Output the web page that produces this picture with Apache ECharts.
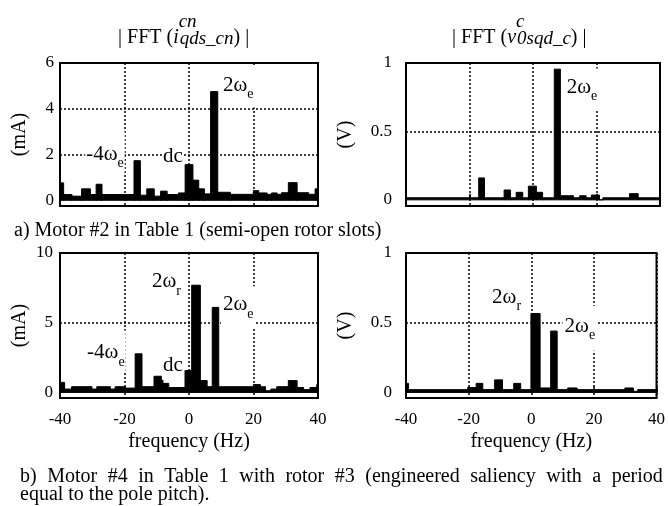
<!DOCTYPE html>
<html><head><meta charset="utf-8">
<script src="https://cdn.jsdelivr.net/npm/echarts@6.0.0/dist/echarts.min.js"></script>
<style>html,body{margin:0;padding:0;background:#fff}#c{width:668px;height:506px}</style>
</head><body><div id="c"></div>
<script>
// ---- data: piecewise-constant FFT spectra (bin edges in Hz, amplitude of each bin) ----
const xTickLabels = [-40, -20, 0, 20, 40];

// a) current |FFT(i_qds_cn)| in mA
const tlEdges = [-40, -39, -36.4, -33.3, -30.7, -28.8, -27.1, -17.05, -15.2, -13.1, -10.9, -8.8, -6.9, -3.3, -1.2, 1.1, 2.9, 4.65, 6.7, 8.8, 12.7, 19.95, 21.5, 24.1, 25.6, 27.2, 28.7, 30.8, 33.4, 37, 39.1, 40];
const tlAmp   = [0.76, 0.25, 0.18, 0.5, 0.25, 0.7, 0.25, 1.73, 0.22, 0.5, 0.18, 0.4, 0.25, 0.32, 1.56, 0.88, 0.5, 0.28, 4.75, 0.35, 0.26, 0.42, 0.32, 0.26, 0.32, 0.26, 0.33, 0.77, 0.33, 0.26, 0.5];
// a) voltage |FFT(v_0sqd_c)| in V
const trEdges = [-40, -17.1, -15.4, -9.1, -7.2, -5.3, -3.35, -1.46, 0.94, 2.9, 6.7, 8.5, 12.6, 14.7, 16.6, 18.4, 20.8, 22, 30.4, 33, 40];
const trAmp   = [0.015, 0.16, 0.015, 0.072, 0.015, 0.055, 0.015, 0.1, 0.055, 0.015, 0.955, 0.03, 0.015, 0.03, 0.015, 0.035, 0.0, 0.015, 0.045, 0.015];
// b) current in mA
const blEdges = [-40, -38.7, -36.4, -30.2, -28.6, -24.5, -22.9, -19.8, -16.7, -14.7, -10.85, -8.2, -6.4, -1.24, 0.83, 3.4, 5.5, 7.2, 9.1, 19.95, 22, 23.6, 25.4, 27.2, 30.8, 33.4, 35.4, 37.5, 39.6, 40];
const blAmp   = [0.72, 0.24, 0.41, 0.24, 0.41, 0.24, 0.41, 0.31, 2.77, 0.41, 1.16, 0.65, 0.35, 1.57, 7.69, 0.85, 0.41, 6.1, 0.41, 0.56, 0.41, 0.12, 0.24, 0.41, 0.85, 0.35, 0.2, 0.35, 0.56];
// b) voltage in V
const brEdges = [-40, -39.3, -20.3, -17.6, -15.6, -11.7, -9.3, -5.6, -3.5, -0.1, 2.7, 6.2, 8.15, 11.6, 14.5, 29.9, 32.5, 34, 40];
const brAmp   = [0.065, 0.02, 0.035, 0.065, 0.02, 0.09, 0.02, 0.065, 0.02, 0.566, 0.032, 0.44, 0.02, 0.032, 0.02, 0.032, 0.008, 0.02];

const tlLabels = [0, 2, 4, 6], tlGrid = [2, 4];
const trLabels = [0, 0.5, 1], trGrid = [0.5];
const blLabels = [0, 5, 10], blGrid = [5];
const brLabels = [0, 0.5, 1], brGrid = [0.5];

// ---- styling ----
const F = 'Liberation Serif';
const chart = echarts.init(document.getElementById('c'), null, {renderer: 'canvas'});

const labelRich = {
  m: {fontFamily: F, fontSize: 21, color: '#000', verticalAlign: 'top'},
  s: {fontFamily: F, fontSize: 14, color: '#000', verticalAlign: 'bottom', padding: [13, 0, 0, 0]}
};
function ann(coord, text, pad) {
  return {
    value: coord,
    itemStyle: {opacity: 1},
    label: {show: true, position: 'right', distance: 0, opacity: 1, formatter: function () { return text; },
      backgroundColor: '#fff', padding: pad, rich: labelRich}
  };
}
const titleRich = {
  n: {fontFamily: F, fontSize: 20, fontWeight: 'normal', color: '#000', verticalAlign: 'bottom'},
  i: {fontFamily: F, fontSize: 20, fontWeight: 'normal', fontStyle: 'italic', color: '#000', verticalAlign: 'bottom'},
  sup: {fontFamily: F, fontSize: 19, fontWeight: 'normal', fontStyle: 'italic', color: '#000', verticalAlign: 'top', width: 1, padding: [0, 0, 17, 0]},
  sub: {fontFamily: F, fontSize: 19, fontWeight: 'normal', fontStyle: 'italic', color: '#000', verticalAlign: 'bottom'}
};
const capRich = {
  t: {fontFamily: F, fontSize: 20, fontWeight: 'normal', color: '#000'},
  s: {fontFamily: F, fontSize: 20, fontWeight: 'normal', color: '#000', width: 10.5}
};
const capB1 = 'b) Motor #4 in Table 1 with rotor #3 (engineered saliency with a period';
const capB2 = 'equal to the pole pitch).';
const capB1Rich = capB1.split(' ').map(w => '{t|' + w + '}').join('{s| }');

const grids = [
  {left: 60, top: 63, width: 258, height: 143},
  {left: 406, top: 63, width: 254, height: 143},
  {left: 60, top: 253, width: 258, height: 145},
  {left: 406, top: 253, width: 254, height: 145}
].map(g => Object.assign(g, {show: true, borderColor: '#000', borderWidth: 2, backgroundColor: 'transparent'}));

const dotted = {color: '#000', width: 1.5, type: [2, 2]};

function xAxis(idx, bottom) {
  return {
    gridIndex: idx, type: 'value', min: xTickLabels[0], max: xTickLabels[xTickLabels.length - 1], interval: 20,
    axisLine: {show: false},
    axisTick: {show: true, inside: true, length: 6, lineStyle: {color: '#000', width: 1.5}},
    axisLabel: {show: bottom, fontFamily: F, fontSize: 17, color: '#000', margin: 13},
    splitLine: {show: true, lineStyle: dotted},
    name: bottom ? 'frequency (Hz)' : '', nameLocation: 'middle', nameGap: 34,
    nameTextStyle: {fontFamily: F, fontSize: 20, color: '#000'}
  };
}
function yAxis(idx, min, max, labels, gridVals, name, gap, margin) {
  return {
    gridIndex: idx, type: 'value', min: min, max: max,
    axisLine: {show: false},
    axisTick: {show: false, customValues: gridVals},
    axisLabel: {customValues: labels, fontFamily: F, fontSize: 17, color: '#000', margin: margin},
    splitLine: {show: true, lineStyle: dotted},
    name: name, nameLocation: 'middle', nameGap: gap,
    nameTextStyle: {fontFamily: F, fontSize: 20, color: '#000'}
  };
}
function renderBin(params, api) {
  const a = api.coord([api.value(0), api.value(2)]);
  const b = api.coord([api.value(1), 0]);
  return {
    type: 'rect',
    shape: {x: a[0], y: a[1], width: b[0] - a[0] + 0.4, height: b[1] - a[1]},
    style: {fill: '#000', stroke: '#000', lineWidth: 1}
  };
}
function spec(idx, edges, amp) {
  return {
    type: 'custom', xAxisIndex: idx, yAxisIndex: idx, renderItem: renderBin, silent: true,
    encode: {x: [0, 1], y: 2},
    data: amp.map((v, i) => [edges[i], edges[i + 1], v])
  };
}
function notes(idx, items) {
  return {
    type: 'scatter', xAxisIndex: idx, yAxisIndex: idx, symbolSize: 0, silent: true, z: 5,
    itemStyle: {opacity: 1}, label: {opacity: 1},
    data: items
  };
}

const option = {
  animation: false,
  backgroundColor: '#fff',
  title: [
    {left: 118, top: 12, padding: 0, text: '{n|| FFT (}{i|i}{sup|cn}{sub|qds_cn}{n|) |}', textStyle: {fontWeight: 'normal', rich: titleRich}},
    {left: 452, top: 12, padding: 0, text: '{n|| FFT (}{i|v}{sup|c}{sub|0sqd_c}{n|) |}', textStyle: {fontWeight: 'normal', rich: titleRich}},
    {left: 14, top: 221, padding: 0, text: 'a) Motor #2 in Table 1 (semi-open rotor slots)',
      textStyle: {fontFamily: F, fontSize: 20, fontWeight: 'normal', color: '#000', lineHeight: 20}},
    {left: 20, top: 467, padding: 0, text: capB1Rich,
      textStyle: {fontWeight: 'normal', lineHeight: 20, rich: capRich}},
    {left: 20, top: 485, padding: 0, text: capB2,
      textStyle: {fontFamily: F, fontSize: 20, fontWeight: 'normal', color: '#000', lineHeight: 20}}
  ],
  grid: grids,
  xAxis: [xAxis(0, false), xAxis(1, false), xAxis(2, true), xAxis(3, true)],
  yAxis: [
    yAxis(0, -0.25, 6, tlLabels, tlGrid, '(mA)', 30, 6),
    yAxis(1, -0.045, 1, trLabels, trGrid, '(V)', 50, 14),
    yAxis(2, -0.4, 10, blLabels, blGrid, '(mA)', 30, 7),
    yAxis(3, -0.04, 1, brLabels, brGrid, '(V)', 50, 14)
  ],
  series: [
    spec(0, tlEdges, tlAmp),
    spec(1, trEdges, trAmp),
    spec(2, blEdges, blAmp),
    spec(3, brEdges, brAmp),
    notes(0, [
      ann([9.9, 4.95], '{m|2ω}{s|e}', [8, 2, 6, 2]),
      ann([-32.2, 2.11], '{m|-4ω}{s|e}', [12, 1, 2, 1]),
      ann([-8.4, 1.92], '{m|dc}', [4, 1, 4, 1])
    ]),
    notes(1, [
      ann([10.0, 0.81], '{m|2ω}{s|e}', [8, 2, 6, 2])
    ]),
    notes(2, [
      ann([-11.8, 7.8], '{m|2ω}{s|r}', [6, 1, 4, 1]),
      ann([9.9, 6.14], '{m|2ω}{s|e}', [8, 2, 6, 2]),
      ann([-31.9, 2.98], '{m|-4ω}{s|e}', [12, 1, 2, 1]),
      ann([-8.4, 1.94], '{m|dc}', [4, 1, 4, 1])
    ]),
    notes(3, [
      ann([-12.5, 0.67], '{m|2ω}{s|r}', [6, 1, 4, 0]),
      ann([10.0, 0.46], '{m|2ω}{s|e}', [10, 2, 8, 2])
    ])
  ]
};
chart.setOption(option);
</script>
</body></html>
